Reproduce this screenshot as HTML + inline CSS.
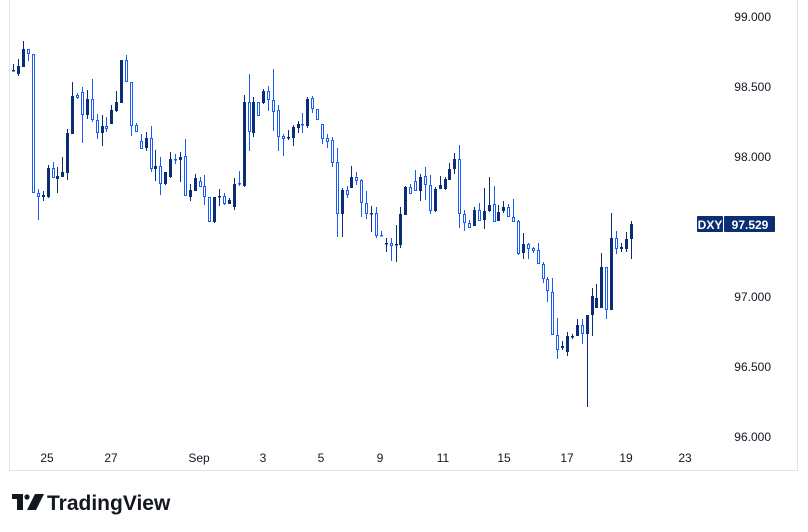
<!DOCTYPE html>
<html><head><meta charset="utf-8"><style>
html,body{margin:0;padding:0;background:#fff;width:808px;height:532px;overflow:hidden}
svg{display:block}
text{font-family:"Liberation Sans",sans-serif}
</style></head><body>
<svg id="s" width="808" height="532" xmlns="http://www.w3.org/2000/svg">
<line x1="9.5" y1="0" x2="9.5" y2="471" stroke="#e0e3eb"/>
<line x1="9" y1="470.5" x2="798" y2="470.5" stroke="#e0e3eb"/>
<line x1="797.5" y1="0" x2="797.5" y2="471" stroke="#e0e3eb"/>
<g font-size="12" fill="#131722" text-anchor="end">
<text x="771" y="21">99.000</text>
<text x="771" y="91">98.500</text>
<text x="771" y="161">98.000</text>
<text x="771" y="301">97.000</text>
<text x="771" y="371">96.500</text>
<text x="771" y="441">96.000</text>
</g>
<g font-size="12" fill="#131722" text-anchor="middle">
<text x="47" y="462">25</text><text x="111" y="462">27</text><text x="199" y="462">Sep</text>
<text x="263" y="462">3</text><text x="321" y="462">5</text><text x="380" y="462">9</text>
<text x="443" y="462">11</text><text x="504" y="462">15</text><text x="567" y="462">17</text>
<text x="626" y="462">19</text><text x="685" y="462">23</text>
</g>
<rect x="697" y="216" width="26" height="16" fill="#0b2d74" rx="1"/>
<rect x="724" y="216" width="51" height="16" fill="#0b2d74" rx="1"/>
<text x="710" y="229" font-size="12" font-weight="bold" fill="#fff" text-anchor="middle">DXY</text>
<text x="750" y="229" font-size="12" font-weight="bold" fill="#fff" text-anchor="middle">97.529</text>
<g fill="#131722">
<rect x="12" y="494" width="11" height="5"/><rect x="17" y="494" width="6" height="16"/>
<circle cx="27" cy="497" r="2.6"/>
<polygon points="35,494 44,494 36,510 27,510"/>
</g>
<text x="47" y="510" font-size="21" font-weight="bold" fill="#131722">TradingView</text>
<g id="c"></g>
</svg>
<script>
var d=[
[1,70,70,64,70],[1,66,74,59,76],[1,49,67,41,67],[0,49,54,49,61],[0,54,193,54,193],[0,193,197,189,220],[1,195,197,191,201],[1,168,197,165,198],[0,168,178,162,178],[1,176,179,167,193],
[1,172,177,157,177],[1,133,173,129,180],[1,96,134,82,134],[0,95,98,93,99],[0,92,115,87,143],[1,99,115,90,119],[0,99,120,79,122],[0,120,133,114,139],[1,126,133,115,146],[0,126,129,117,132],
[1,110,124,105,124],[1,102,111,91,112],[1,60,103,60,103],[0,60,82,55,82],[0,82,126,82,136],[0,125,132,123,132],[0,141,149,134,149],[1,138,148,132,151],[0,138,169,126,172],[1,166,169,150,181],
[0,166,184,157,195],[1,172,184,172,185],[1,159,177,152,178],[0,159,160,154,164],[1,157,160,152,182],[0,156,196,139,196],[1,190,197,184,201],[1,178,191,174,191],[0,181,187,177,187],[0,186,197,175,205],
[0,197,222,197,222],[1,197,222,197,223],[1,196,197,189,206],[0,196,204,193,205],[1,200,204,198,204],[1,184,207,178,210],[0,183,184,171,186],[1,102,186,95,187],[0,102,132,74,151],[1,102,133,97,137],
[0,102,116,102,116],[1,91,103,89,104],[0,91,100,86,111],[0,100,112,69,131],[0,110,137,105,151],[0,136,139,134,156],[1,137,138,130,140],[1,127,138,125,146],[1,124,128,121,133],[0,124,125,113,133],
[1,99,126,97,128],[0,98,109,96,113],[0,109,120,109,120],[0,124,139,124,144],[0,138,142,134,148],[0,140,163,137,167],[0,162,214,148,237],[1,190,214,188,237],[0,190,195,186,198],[1,177,188,166,188],
[0,177,181,172,185],[0,180,203,179,217],[0,203,214,191,219],[1,213,214,206,232],[0,213,236,207,238],[0,235,236,231,236],[1,243,244,238,252],[0,243,246,238,261],[1,244,245,225,262],[1,214,245,207,248],
[1,187,215,186,215],[0,187,194,184,194],[0,181,191,170,191],[1,177,191,174,201],[0,176,185,167,200],[0,185,211,175,214],[1,189,211,187,212],[1,185,189,176,189],[1,179,189,177,190],[1,169,180,163,180],
[1,159,169,153,174],[0,159,214,145,228],[0,214,223,210,231],[0,223,228,220,228],[1,210,226,207,226],[0,210,221,203,221],[1,211,220,188,229],[1,205,211,177,212],[0,204,222,186,222],[1,212,221,205,221],
[1,207,211,201,213],[0,207,217,204,217],[0,217,222,199,222],[0,221,254,220,255],[1,244,253,233,259],[0,244,249,243,259],[0,248,251,247,253],[0,250,264,243,264],[0,264,279,262,283],[0,279,291,277,302],
[0,292,335,278,335],[0,335,350,318,359],[1,346,348,341,350],[1,336,352,332,356],[1,336,337,334,339],[1,325,336,319,336],[0,325,334,319,344],[1,315,334,315,407],[1,296,315,288,336],[1,298,308,284,308],
[1,267,308,253,308],[0,267,310,267,319],[1,238,310,213,310],[0,238,249,231,254],[1,247,249,243,252],[1,239,249,232,252],[1,224,239,221,259]];
var h='';
for(var i=0;i<d.length;i++){var c=d[i],x=Math.round(13.3+i*4.9),col=c[0]?'#0b2d74':'#1a5cf0';
var t=c[1],b=Math.max(c[2],c[1]+1.5);
h+='<line x1="'+(x+0.5)+'" y1="'+c[3]+'" x2="'+(x+0.5)+'" y2="'+Math.max(c[4],b)+'" stroke="'+col+'"/>';
if(c[0])h+='<rect x="'+(x-1)+'" y="'+t+'" width="3" height="'+(b-t)+'" fill="'+col+'"/>';
else h+='<rect x="'+(x-0.5)+'" y="'+(t+0.5)+'" width="2" height="'+Math.max(b-t-1,0.5)+'" fill="#fff" stroke="'+col+'"/>';}
document.getElementById('c').innerHTML=h;
</script>
</body></html>
